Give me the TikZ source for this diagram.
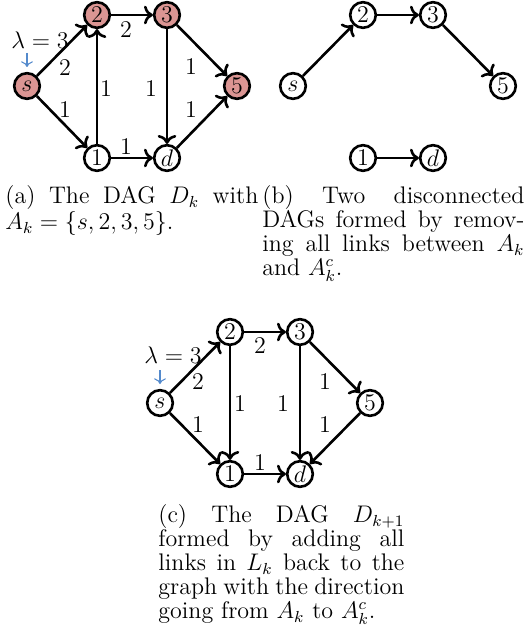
\documentclass[tikz,border=0pt]{standalone}
\usetikzlibrary{arrows.meta}
\definecolor{nodered}{RGB}{219,149,147}
\definecolor{lamblue}{RGB}{84,138,204}
\begin{document}
\begin{tikzpicture}[x=0.5pt,y=-0.5pt,
  every node/.style={font=\fontsize{12}{12}\selectfont},
  vtx/.style={circle,draw,line width=1.3pt,minimum size=12.8pt,inner sep=0pt},
  act/.style={vtx,fill=nodered},
  link/.style={line width=1.3pt,->},
  wt/.style={inner sep=0pt},
  lam/.style={lamblue,line width=0.55pt,->},
  subcap/.style={anchor=north west,inner sep=0pt,align=justify}]
\useasboundingbox (0,0) rectangle (529,631);

% (a) the DAG D_k, nodes of A_k shaded
\node[act] (as) at (27,86) {$s$};
\node[act] (a2) at (97,15) {2};
\node[act] (a3) at (167,15) {3};
\node[act] (a5) at (237,86) {5};
\node[vtx] (a1) at (97,158) {1};
\node[vtx] (ad) at (167,158) {$d$};
\draw[link] (as) -- (a2);
\draw[link] (as) -- (a1);
\draw[link] (a2) -- (a3);
\draw[link] (a1) -- (a2);
\draw[link] (a3) -- (ad);
\draw[link] (a3) -- (a5);
\draw[link] (ad) -- (a5);
\draw[link] (a1) -- (ad);
\node[wt] (wa1) at (65,68) {2};
\node[wt] (wa2) at (65,110) {1};
\node[wt] (wa3) at (126,30) {2};
\node[wt] (wa4) at (106,89) {1};
\node[wt] (wa5) at (151,89) {1};
\node[wt] (wa6) at (191,67) {1};
\node[wt] (wa7) at (191,110) {1};
\node[wt] (wa8) at (126,147) {1};
\node[wt] (lama) at (40,40) {$\lambda=3$};
\coordinate (lama0) at (27,53);
\coordinate (lama1) at (27,67);
\draw[lam] (lama0) -- (lama1);

% (b) the two components left after cutting L_k
\node[vtx] (bs) at (293,86) {$s$};
\node[vtx] (b2) at (363,15) {2};
\node[vtx] (b3) at (433,15) {3};
\node[vtx] (b5) at (503,86) {5};
\node[vtx] (b1) at (363,158) {1};
\node[vtx] (bd) at (433,158) {$d$};
\draw[link] (bs) -- (b2);
\draw[link] (b2) -- (b3);
\draw[link] (b3) -- (b5);
\draw[link] (b1) -- (bd);

% (c) the DAG D_{k+1}
\node[vtx] (cs) at (160,403) {$s$};
\node[vtx] (c2) at (230,332) {2};
\node[vtx] (c3) at (300,332) {3};
\node[vtx] (c5) at (370,403) {5};
\node[vtx] (c1) at (230,474) {1};
\node[vtx] (cd) at (300,474) {$d$};
\draw[link] (cs) -- (c2);
\draw[link] (cs) -- (c1);
\draw[link] (c2) -- (c3);
\draw[link] (c2) -- (c1);
\draw[link] (c3) -- (cd);
\draw[link] (c3) -- (c5);
\draw[link] (c5) -- (cd);
\draw[link] (c1) -- (cd);
\node[wt] (wc1) at (198,382) {2};
\node[wt] (wc2) at (198,425) {1};
\node[wt] (wc3) at (260,346) {2};
\node[wt] (wc4) at (240,404) {1};
\node[wt] (wc5) at (283,404) {1};
\node[wt] (wc6) at (325,382) {1};
\node[wt] (wc7) at (325,425) {1};
\node[wt] (wc8) at (260,463) {1};
\node[wt] (lamc) at (173,355) {$\lambda=3$};
\coordinate (lamc0) at (160,370);
\coordinate (lamc1) at (160,384);
\draw[lam] (lamc0) -- (lamc1);

% sub-captions
\node[subcap,text width=126.5pt] (capa) at (5,185)
  {(a) The DAG $D_k$ with\linebreak $A_k=\{s,2,3,5\}$.};
\node[subcap,text width=131pt] (capb) at (262,185)
  {(b) Two disconnected\linebreak DAGs formed by remov-\linebreak ing all links between $A_k$\linebreak and $A_k^c$.};
\node[subcap,text width=123pt] (capc) at (158,504)
  {(c) The DAG $D_{k+1}$\linebreak formed by adding all\linebreak links in $L_k$ back to the\linebreak graph with the direction\linebreak going from $A_k$ to $A_k^c$.};
\end{tikzpicture}
\end{document}
